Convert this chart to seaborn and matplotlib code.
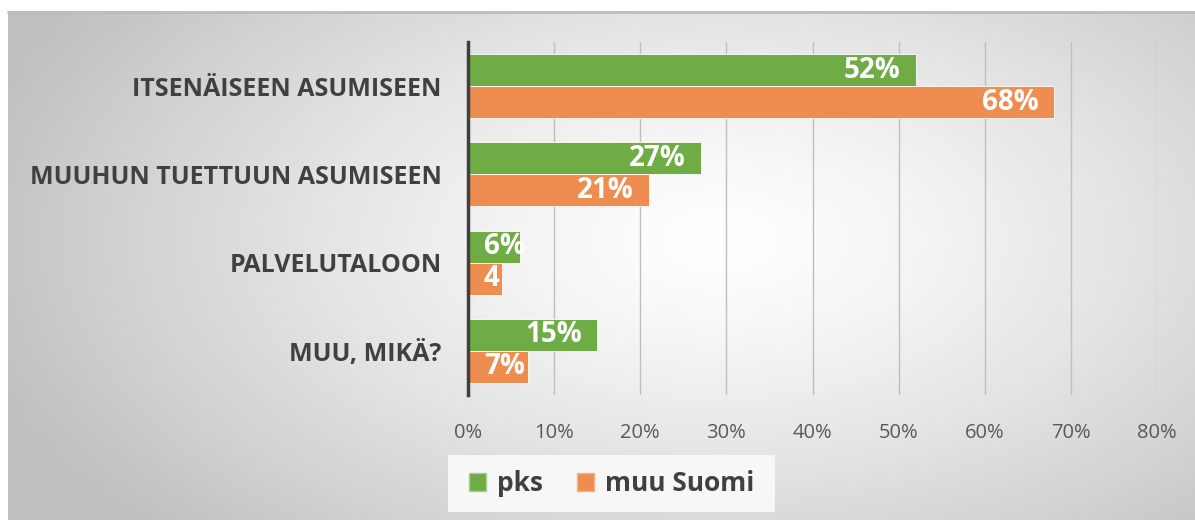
import numpy as np
import pandas as pd
import matplotlib
matplotlib.use("Agg")
import matplotlib.pyplot as plt
import seaborn as sns
from matplotlib.patches import Patch

categories = ["ITSENÄISEEN ASUMISEEN", "MUUHUN TUETTUUN ASUMISEEN", "PALVELUTALOON", "MUU, MIKÄ?"]
series_names = ["pks", "muu Suomi"]
pks_values = [52, 27, 6, 15]
muu_values = [68, 21, 4, 7]
pks_labels = ["52%", "27%", "6%", "15%"]
muu_labels = ["68%", "21%", "4", "7%"]
x_ticks = [0, 10, 20, 30, 40, 50, 60, 70, 80]
x_tick_labels = ["0%", "10%", "20%", "30%", "40%", "50%", "60%", "70%", "80%"]

GREEN = "#6FAC46"
ORANGE = "#EF8D50"
DARK = "#404040"

sns.set_theme(style="white")
plt.rcParams["font.family"] = ["Open Sans", "DejaVu Sans"]

df = pd.DataFrame({
    "category": categories * 2,
    "series": [series_names[0]] * 4 + [series_names[1]] * 4,
    "value": pks_values + muu_values,
})

W, H = 1195, 520
fig = plt.figure(figsize=(W / 100, H / 100), dpi=100)
fig.patch.set_facecolor("white")

# gradient background
bg = fig.add_axes([8 / W, 0, 1 - 8 / W, 1 - 11 / H], zorder=0)
gx = np.linspace(8, W, 600)
gy = np.linspace(11, H, 300)
XX, YY = np.meshgrid(gx, gy)
d = np.sqrt(((XX - 720) / 780) ** 2 + ((YY - 240) / 430) ** 2)
d = np.clip(d, 0, 1)
val = 1.0 - 0.25 * d ** 1.3
img = np.dstack([val, val, val])
bg.imshow(img, aspect="auto", extent=[0, 1, 0, 1], interpolation="bilinear")
bg.set_axis_off()
fig.add_artist(plt.Line2D([8 / W, 1], [1 - 11.5 / H, 1 - 11.5 / H], color="#bdbdbd", lw=2, transform=fig.transFigure, zorder=1))

ax = fig.add_axes([468 / W, 1 - 395 / H, (1157 - 468) / W, (395 - 42) / H], zorder=2)
ax.patch.set_alpha(0)
sns.barplot(data=df, y="category", x="value", hue="series", orient="h",
            palette=[GREEN, ORANGE], width=0.725, ax=ax, legend=False,
            edgecolor="#ffffff", linewidth=0.6, saturation=1)

ax.set_xlim(0, 80)
ax.set_ylim(3.5, -0.5)
ax.set_xticks(x_ticks)
ax.set_xticklabels(x_tick_labels, fontsize=14.5, color="#595959")
ax.tick_params(axis="x", length=0, pad=20)
ax.set_yticks(range(len(categories)))
ax.set_yticklabels(categories, fontsize=18, fontweight="bold", color=DARK)
ax.tick_params(axis="y", length=0, pad=19)
ax.set_xlabel("")
ax.set_ylabel("")
for sp in ["top", "right", "bottom"]:
    ax.spines[sp].set_visible(False)
ax.spines["left"].set_color(DARK)
ax.spines["left"].set_linewidth(2.5)
ax.spines["left"].set_zorder(5)
ax.grid(axis="x", color="#bfbfbf", linewidth=1)
ax.set_axisbelow(True)

labels_all = [pks_labels, muu_labels]
all_texts = []
for cont, labs in zip(ax.containers, labels_all):
    texts = ax.bar_label(cont, labels=labs, padding=-11, color="white", fontweight="bold",
                         fontsize=20, label_type="edge")
    for t in texts:
        t.set_horizontalalignment("right")
        t.set_zorder(6)
    all_texts.extend(texts)

# keep labels of short bars from running past the bar start (Excel-like clamping)
fig.canvas.draw()
renderer = fig.canvas.get_renderer()
x0_px = ax.transData.transform((0, 0))[0]
min_left = x0_px + 16
for t in all_texts:
    bb = t.get_window_extent(renderer)
    if bb.x0 < min_left:
        t.xy = (0, t.xy[1])
        t.set_horizontalalignment("left")
        t.set_position((11.5, t.get_position()[1]))

# legend box
lax = fig.add_axes([448 / W, 1 - 512 / H, (775 - 448) / W, (512 - 455) / H], zorder=3)
lax.set_facecolor("#f7f7f7")
lax.set_xticks([]); lax.set_yticks([])
for sp in lax.spines.values():
    sp.set_visible(False)
handles = [Patch(facecolor=GREEN, edgecolor="#a8d08d"), Patch(facecolor=ORANGE, edgecolor="#f4b183")]
leg = lax.legend(handles, series_names, loc="center", ncol=2, frameon=False,
                 prop={"weight": "bold", "size": 19}, handlelength=0.65, handleheight=0.65,
                 handletextpad=0.4, columnspacing=1.3, labelcolor=DARK)

fig.savefig("out.png", dpi=100)
